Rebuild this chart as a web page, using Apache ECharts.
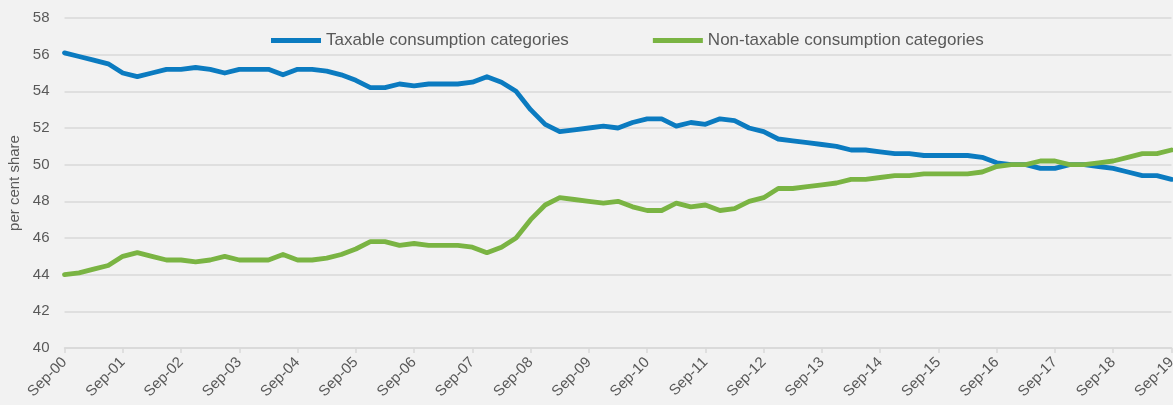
<!DOCTYPE html>
<html>
<head>
<meta charset="utf-8">
<script src="https://cdn.jsdelivr.net/npm/echarts@6/dist/echarts.min.js"></script>
<style>
  html,body{margin:0;padding:0;background:#f2f2f2;}
  #chart{width:1173px;height:405px;}
</style>
</head>
<body>
<div id="chart"></div>
<script>
"use strict";

// quarterly, Sep-00 .. Sep-19 (Mar/Jun fall in the next calendar year)
var months=['Sep','Dec','Mar','Jun'];
var categories=[];
for (var i=0;i<77;i++){
  var yy=('0'+(i%4<2 ? Math.floor(i/4) : Math.floor(i/4)+1)).slice(-2);
  categories.push(months[i%4]+'-'+yy);
}

var taxable=[
  56.1,55.9,55.7,55.5,55.0,54.8,55.0,55.2,55.2,55.3,
  55.2,55.0,55.2,55.2,55.2,54.9,55.2,55.2,55.1,54.9,
  54.6,54.2,54.2,54.4,54.3,54.4,54.4,54.4,54.5,54.8,
  54.5,54.0,53.0,52.2,51.8,51.9,52.0,52.1,52.0,52.3,
  52.5,52.5,52.1,52.3,52.2,52.5,52.4,52.0,51.8,51.4,
  51.3,51.2,51.1,51.0,50.8,50.8,50.7,50.6,50.6,50.5,
  50.5,50.5,50.5,50.4,50.1,50.0,50.0,49.8,49.8,50.0,
  50.0,49.9,49.8,49.6,49.4,49.4,49.2
];
var nonTaxable=[
  44.0,44.1,44.3,44.5,45.0,45.2,45.0,44.8,44.8,44.7,
  44.8,45.0,44.8,44.8,44.8,45.1,44.8,44.8,44.9,45.1,
  45.4,45.8,45.8,45.6,45.7,45.6,45.6,45.6,45.5,45.2,
  45.5,46.0,47.0,47.8,48.2,48.1,48.0,47.9,48.0,47.7,
  47.5,47.5,47.9,47.7,47.8,47.5,47.6,48.0,48.2,48.7,
  48.7,48.8,48.9,49.0,49.2,49.2,49.3,49.4,49.4,49.5,
  49.5,49.5,49.5,49.6,49.9,50.0,50.0,50.2,50.2,50.0,
  50.0,50.1,50.2,50.4,50.6,50.6,50.8
];

var FONT='"Liberation Sans", Arial, sans-serif';
var TXT='#595959';
var GRID='#d9d9d9';

var chart=echarts.init(document.getElementById('chart'),null,{renderer:'canvas'});
chart.setOption({
  backgroundColor:'#f2f2f2',
  animation:false,
  textStyle:{fontFamily:FONT},
  grid:{left:64.5,right:1.5,top:18,bottom:57,containLabel:false,outerBoundsMode:'none'},
  legend:{
    left:266,top:27,
    itemWidth:50,itemHeight:5,itemGap:84,
    icon:'rect',
    textStyle:{fontSize:17,color:TXT,fontFamily:FONT},
    data:['Taxable consumption categories','Non-taxable consumption categories']
  },
  xAxis:{
    type:'category',
    data:categories,
    boundaryGap:false,
    axisLine:{lineStyle:{color:GRID,width:1.5}},
    axisTick:{interval:3,length:5,lineStyle:{color:GRID,width:1.5}},
    axisLabel:{interval:3,rotate:45,margin:12,fontSize:15,color:TXT,fontFamily:FONT},
    splitLine:{show:false}
  },
  yAxis:{
    type:'value',
    min:40,max:58,interval:2,
    name:'per cent share',
    nameLocation:'middle',
    nameGap:42,
    nameTextStyle:{fontSize:15,color:TXT,fontFamily:FONT},
    axisLine:{show:false},
    axisTick:{show:false},
    axisLabel:{margin:15,fontSize:15,color:TXT,fontFamily:FONT},
    splitLine:{lineStyle:{color:GRID,width:1.5}}
  },
  series:[
    {
      name:'Taxable consumption categories',
      type:'line',
      data:taxable,
      showSymbol:false,
      color:'#0b7bc0',
      lineStyle:{width:4.8,color:'#0b7bc0',cap:'round',join:'round'}
    },
    {
      name:'Non-taxable consumption categories',
      type:'line',
      data:nonTaxable,
      showSymbol:false,
      color:'#7ab443',
      lineStyle:{width:4.8,color:'#7ab443',cap:'round',join:'round'}
    }
  ]
});
</script>
</body>
</html>
